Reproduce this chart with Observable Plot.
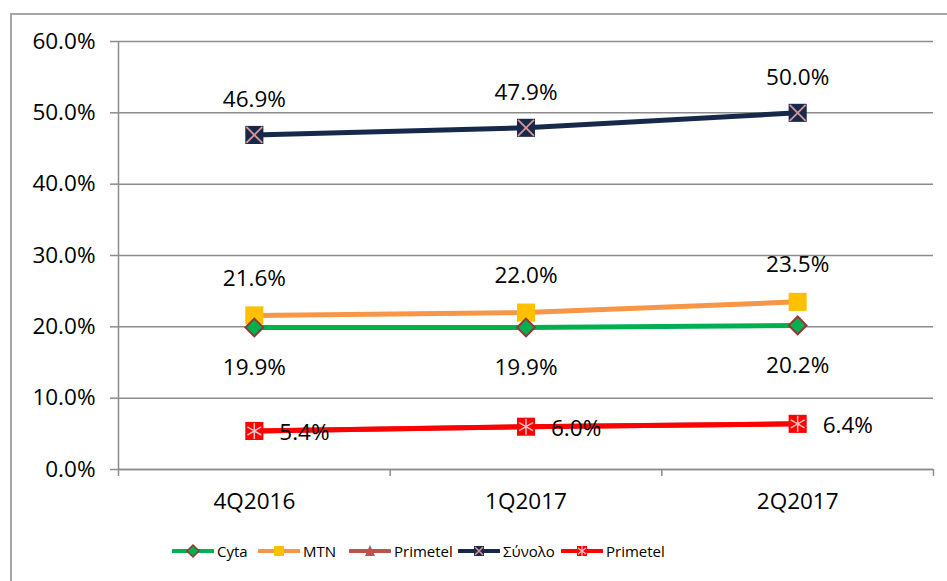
<!DOCTYPE html>
<html><head><meta charset="utf-8">
<script src="https://cdn.jsdelivr.net/npm/d3@7"></script>
<script src="https://cdn.jsdelivr.net/npm/@observablehq/plot@0.6"></script>
<style>
body{margin:0;background:#fff;font-family:"Open Sans",sans-serif;width:947px;height:581px;overflow:hidden;position:relative}
#frame{position:absolute;left:10px;top:13px;width:960px;height:620px;border:2px solid #a6a6a6;box-sizing:border-box}
#chart{position:absolute;left:0;top:0}
#legend{position:absolute;top:541px;left:0;width:947px;height:20px}
.li{position:absolute;top:0;display:flex;align-items:center;font-size:15px;color:#000;height:20px}
.li svg{margin-right:3px}
</style></head>
<body>
<div id="frame"></div>
<div id="chart"></div>
<div id="legend"></div>
<script>
const categories = ["4Q2016", "1Q2017", "2Q2017"];
const cyta = [0.199, 0.199, 0.202];
const mtn = [0.216, 0.220, 0.235];
const primetelHidden = [0.054, 0.060, 0.064];
const synolo = [0.469, 0.479, 0.500];
const primetel = [0.054, 0.060, 0.064];
const yTicks = [0, 0.1, 0.2, 0.3, 0.4, 0.5, 0.6];

const rows = (vals) => vals.map((v, i) => ({x: i + 0.5, y: v}));
const dCyta = rows(cyta), dMtn = rows(mtn), dPh = rows(primetelHidden), dSyn = rows(synolo), dPr = rows(primetel);
const pct = d => (d.y * 100).toFixed(1) + "%";
const FS = 22.5;
const font = {fontSize: FS, fill: "#000"};

const plot = Plot.plot({
  width: 947, height: 530,
  marginLeft: 118, marginRight: 14, marginTop: 41, marginBottom: 61,
  style: {fontFamily: "'Open Sans', sans-serif", background: "transparent"},
  x: {type: "linear", domain: [0, 3]},
  y: {domain: [0, 0.6]},
  marks: [
    Plot.gridY(yTicks, {stroke: "#8c8c8c", strokeOpacity: 1, strokeWidth: 1.5}),
    Plot.axisY(yTicks, {tickFormat: d => (d * 100).toFixed(1) + "%", tickSize: 8, tickPadding: 15, fontSize: FS, stroke: "#8c8c8c", strokeWidth: 1.5, fill: "#000", label: null}),
    Plot.ruleX([0], {stroke: "#8c8c8c", strokeWidth: 1.5}),
    Plot.axisX([0, 1, 2, 3], {tickSize: 7, tickFormat: () => "", stroke: "#8c8c8c", strokeWidth: 1.5, label: null}),
    Plot.axisX([0.5, 1.5, 2.5], {tickSize: 0, tickPadding: 24, tickFormat: d => categories[Math.floor(d)], fontSize: FS, fill: "#000", label: null}),
    Plot.ruleY([0], {stroke: "#8c8c8c", strokeWidth: 1.5}),
    // Cyta
    Plot.line(dCyta, {x: "x", y: "y", stroke: "#00b050", strokeWidth: 5}),
    // MTN
    Plot.line(dMtn, {x: "x", y: "y", stroke: "#f79646", strokeWidth: 5}),
    Plot.dot(dMtn, {x: "x", y: "y", symbol: "square", r: 10.2, fill: "#ffc000"}),
    Plot.dot(dCyta, {x: "x", y: "y", symbol: "diamond2", r: 8, fill: "#00b050", stroke: "#953735", strokeWidth: 2}),
    // Primetel (hidden beneath)
    Plot.line(dPh, {x: "x", y: "y", stroke: "#c0504d", strokeWidth: 5}),
    Plot.dot(dPh, {x: "x", y: "y", symbol: "triangle", r: 6, fill: "#c0504d"}),
    // Σύνολο
    Plot.line(dSyn, {x: "x", y: "y", stroke: "#17294a", strokeWidth: 5}),
    Plot.dot(dSyn, {x: "x", y: "y", symbol: "square", r: 10.2, fill: "#17294a"}),
    Plot.dot(dSyn, {x: "x", y: "y", symbol: "times", r: 7.3, stroke: "#d99594", strokeWidth: 1.8}),
    // Primetel red
    Plot.line(dPr, {x: "x", y: "y", stroke: "#ff0000", strokeWidth: 5}),
    Plot.dot(dPr, {x: "x", y: "y", symbol: "square", r: 10.2, fill: "#ff0000"}),
    Plot.dot(dPr, {x: "x", y: "y", symbol: "asterisk", r: 7.6, stroke: "#f2c0c0", strokeWidth: 1.5}),
    // labels
    Plot.text(dSyn, {x: "x", y: "y", text: pct, dy: -35, ...font}),
    Plot.text(dMtn, {x: "x", y: "y", text: pct, dy: -37, ...font}),
    Plot.text(dCyta, {x: "x", y: "y", text: pct, dy: 40, ...font}),
    Plot.text(dPr, {x: "x", y: "y", text: pct, dx: 25, dy: 2, textAnchor: "start", ...font})
  ]
});
document.getElementById("chart").appendChild(plot);

// legend
const legendItems = [
  {name: "Cyta", color: "#00b050", x: 172, marker: '<path d="M21 2 L27 8 L21 14 L15 8 Z" fill="#00b050" stroke="#953735" stroke-width="1.5"/>'},
  {name: "MTN", color: "#f79646", x: 258, marker: '<rect x="16" y="3" width="10" height="10" fill="#ffc000"/>'},
  {name: "Primetel", color: "#c0504d", x: 349, marker: '<path d="M21 2 L26 13 L16 13 Z" fill="#c0504d"/>'},
  {name: "Σύνολο", color: "#17294a", x: 458, marker: '<rect x="16" y="3" width="10" height="10" fill="#17294a"/><path d="M17 4 L25 12 M25 4 L17 12" stroke="#d99594" stroke-width="1.5"/>'},
  {name: "Primetel", color: "#ff0000", x: 561, marker: '<rect x="16" y="3" width="10" height="10" fill="#ff0000"/><path d="M21 3 V13 M17 5 L25 11 M25 5 L17 11" stroke="#f2c0c0" stroke-width="1.2"/>'}
];
const leg = document.getElementById("legend");
for (const it of legendItems) {
  const el = document.createElement("div");
  el.className = "li";
  el.style.left = it.x + "px";
  el.innerHTML = `<svg width="42" height="16"><line x1="1" y1="8" x2="41" y2="8" stroke="${it.color}" stroke-width="4" stroke-linecap="round"/>${it.marker}</svg><span>${it.name}</span>`;
  leg.appendChild(el);
}
</script>
</body></html>
